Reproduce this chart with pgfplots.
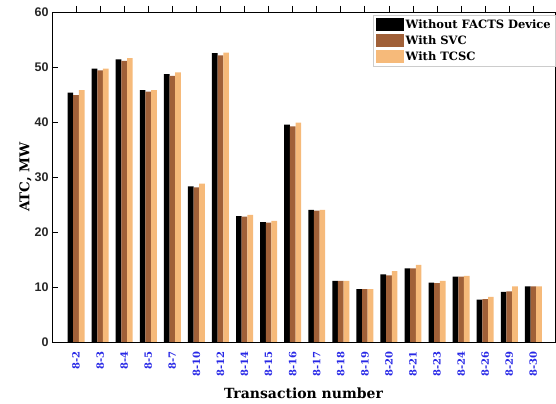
\documentclass[border=0pt]{standalone}
\usepackage{fontspec}
\setmainfont{DejaVu Serif}
\newfontfamily\tickfont{Liberation Sans}
\usepackage{pgfplots}
\pgfplotsset{compat=1.18}
\usetikzlibrary{calc}
\definecolor{svc}{RGB}{160,96,56}
\definecolor{tcsc}{RGB}{246,186,122}
\definecolor{tickblue}{RGB}{40,40,230}
\begin{document}
\begin{tikzpicture}
\begin{axis}[name=ax,
  scale only axis, width=503pt, height=330pt,
  xmin=-1, xmax=19.9, ymin=0, ymax=60,
  ytick={0,10,...,60},
  xtick={0,...,19},
  /pgf/number format/assume math mode=true,
  xticklabels={8-2,8-3,8-4,8-5,8-7,8-10,8-12,8-14,8-15,8-16,8-17,8-18,8-19,8-20,8-21,8-23,8-24,8-26,8-29,8-30},
  xticklabel style={rotate=90, anchor=east, font=\bfseries\fontsize{10}{10}\selectfont, text=tickblue},
  yticklabel style={font=\tickfont\bfseries\fontsize{12.5}{12.5}\selectfont, text=black!85},
  xtick pos=top, ytick pos=left,
  xticklabel pos=bottom,
  major tick length=6pt,
  tick style={black, thick},
  axis line style={thick},
  xlabel={\bfseries Transaction number},
  ylabel={\bfseries ATC, MW},
  xlabel style={font=\bfseries\fontsize{14}{14}\selectfont, yshift=-4pt},
  ylabel style={font=\bfseries\fontsize{13.5}{13.5}\selectfont, yshift=-4pt},
  ybar, bar width=0.235,
  legend style={at={(1,0.99)}, anchor=north east, font=\bfseries\fontsize{11.5}{11.5}\selectfont, draw=gray!40, inner sep=2pt, row sep=2pt, legend cell align=left},
  legend image code/.code={\fill[#1] (0pt,-6pt) rectangle (28pt,7pt);},
]
\addplot[fill=black, draw=none, bar shift=-0.235] coordinates {
(0,45.35)(1,49.7)(2,51.4)(3,45.8)(4,48.7)(5,28.3)(6,52.5)(7,22.9)(8,21.8)(9,39.5)(10,24.0)(11,11.1)(12,9.6)(13,12.3)(14,13.4)(15,10.8)(16,11.9)(17,7.7)(18,9.1)(19,10.1)};
\addplot[fill=svc, draw=none, bar shift=0] coordinates {
(0,44.9)(1,49.4)(2,51.1)(3,45.5)(4,48.4)(5,28.1)(6,52.1)(7,22.8)(8,21.7)(9,39.2)(10,23.9)(11,11.1)(12,9.6)(13,12.1)(14,13.4)(15,10.7)(16,11.9)(17,7.8)(18,9.2)(19,10.1)};
\addplot[fill=tcsc, draw=none, bar shift=0.235] coordinates {
(0,45.8)(1,49.7)(2,51.6)(3,45.8)(4,49.0)(5,28.8)(6,52.6)(7,23.1)(8,22.0)(9,39.9)(10,24.0)(11,11.1)(12,9.6)(13,12.9)(14,14.0)(15,11.1)(16,12.0)(17,8.2)(18,10.1)(19,10.1)};
\legend{Without FACTS Device,With SVC,With TCSC}
\end{axis}
\pgfresetboundingbox
\path ($(ax.south west)+(-52pt,-62pt)$) rectangle ($(ax.north east)+(1pt,12pt)$);
\end{tikzpicture}
\end{document}
